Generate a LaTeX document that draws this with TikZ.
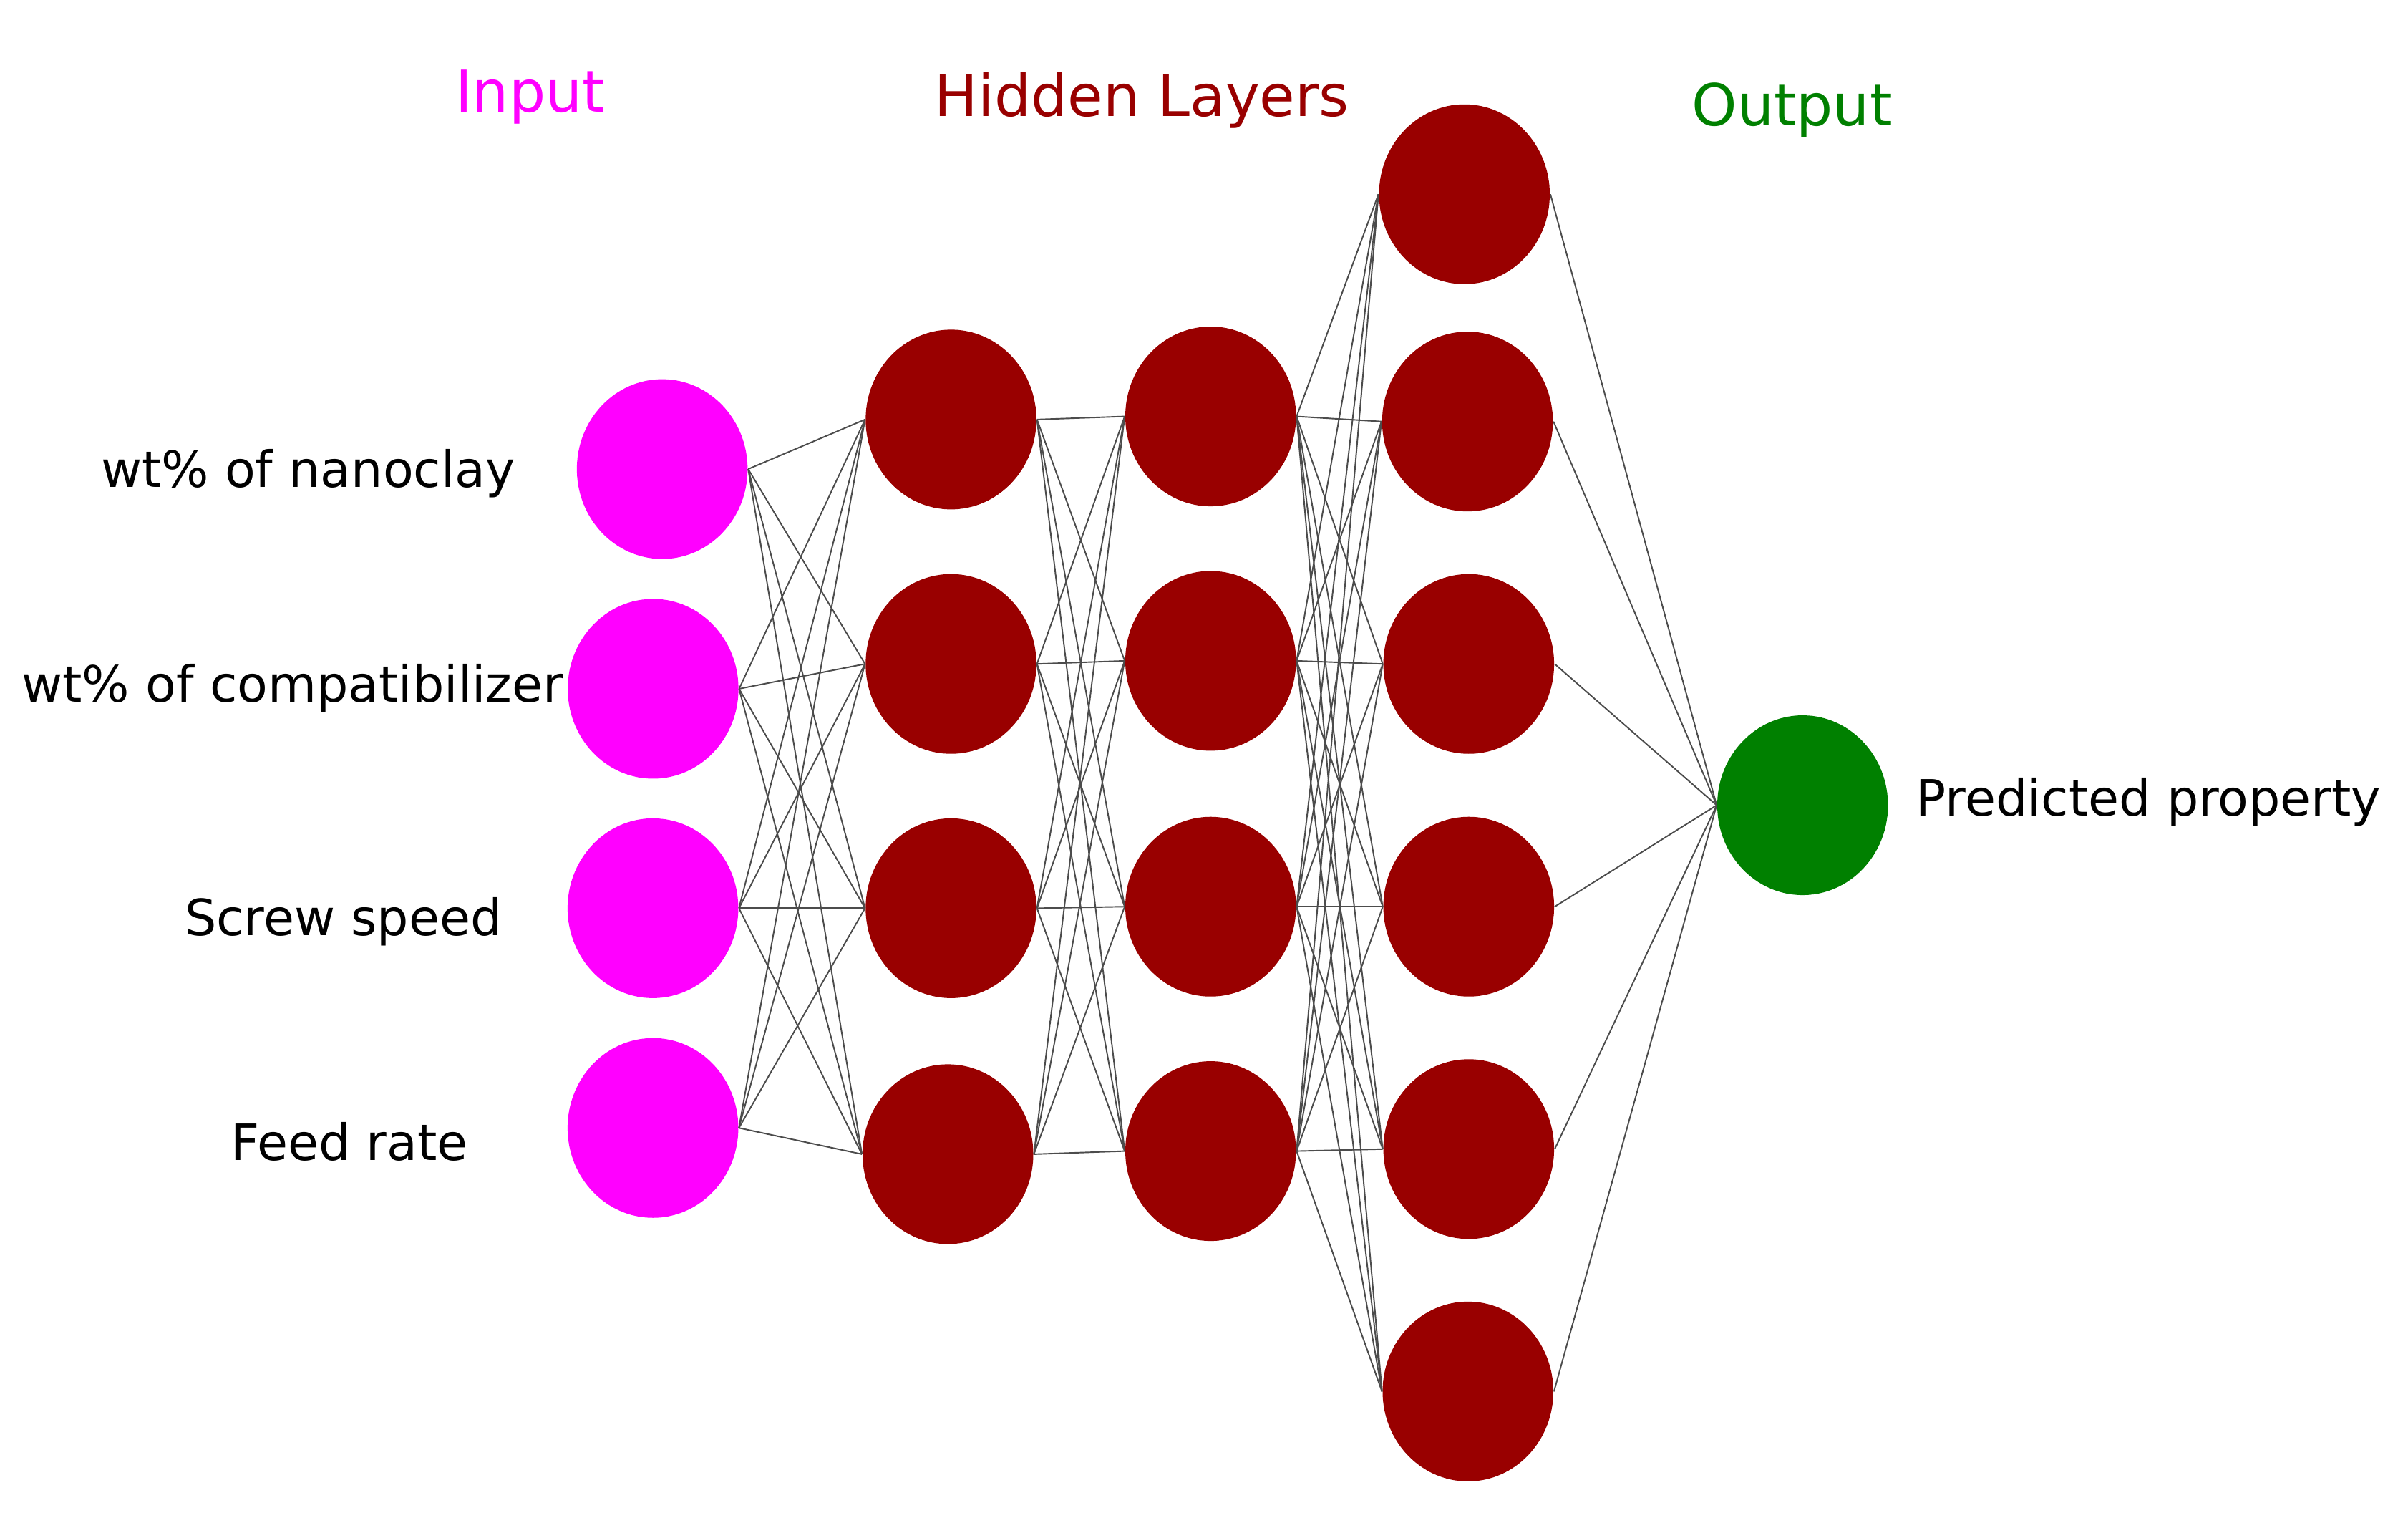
\documentclass[tikz,border=0pt]{standalone}
\usepackage{fontspec}
\setmainfont{DejaVu Sans}
\usetikzlibrary{shapes.geometric}
\definecolor{inmag}{HTML}{FF00FF}
\definecolor{hidred}{HTML}{990000}
\definecolor{outgreen}{HTML}{008000}
\definecolor{titlered}{HTML}{990000}
\tikzset{
  neuron/.style={ellipse, inner sep=0pt, minimum width=55.3pt, minimum height=58.2pt, draw=none},
  innode/.style={neuron, fill=inmag},
  hidnode/.style={neuron, fill=hidred},
  outnode/.style={neuron, fill=outgreen},
  link/.style={line width=0.45pt, draw=black!70},
  lbl/.style={font=\fontsize{16.2}{19}\selectfont, text=black, inner sep=0pt, anchor=base},
  ttl/.style={font=\fontsize{18.7}{22}\selectfont, inner sep=0pt, anchor=base},
}
\begin{document}
\begin{tikzpicture}[x=0.5pt,y=-0.5pt]
\useasboundingbox (0,0) rectangle (1560,983);
\fill[white] (0,0) rectangle (1560,983);
% input layer
\node[innode] (i1) at (429,303.8) {};
\node[innode] (i2) at (423.1,446.1) {};
\node[innode] (i3) at (423,588.2) {};
\node[innode] (i4) at (423,730.5) {};
% hidden layer 1
\node[hidnode] (a1) at (616.1,271.7) {};
\node[hidnode] (a2) at (616.1,430) {};
\node[hidnode] (a3) at (616.1,588.2) {};
\node[hidnode] (a4) at (614.1,747.5) {};
% hidden layer 2
\node[hidnode] (b1) at (784.3,269.7) {};
\node[hidnode] (b2) at (784.3,428) {};
\node[hidnode] (b3) at (784.3,587.2) {};
\node[hidnode] (b4) at (784.3,745.5) {};
% hidden layer 3
\node[hidnode] (c1) at (948.7,125.8) {};
\node[hidnode] (c2) at (950.7,273) {};
\node[hidnode] (c3) at (951.5,430) {};
\node[hidnode] (c4) at (951.5,587.2) {};
\node[hidnode] (c5) at (951.5,744.2) {};
\node[hidnode] (c6) at (951,901.2) {};
% output
\node[outnode] (o1) at (1167.8,521.5) {};
% connections
\foreach \s in {1,...,4}{\foreach \t in {1,...,4}{\draw[link] (i\s.east) -- (a\t.west);}}
\foreach \s in {1,...,4}{\foreach \t in {1,...,4}{\draw[link] (a\s.east) -- (b\t.west);}}
\foreach \s in {1,...,4}{\foreach \t in {1,...,6}{\draw[link] (b\s.east) -- (c\t.west);}}
\foreach \s in {1,...,6}{\draw[link] (c\s.east) -- (o1.west);}
% titles
\node[ttl, text=inmag] (tin) at (343.4,72.7) {Input};
\node[ttl, text=titlered, anchor=base west] (thid) at (605.2,75.4) {Hidden Layers};
\node[ttl, text=outgreen] (tout) at (1161,81.6) {Output};
% labels
\node[lbl] (l1) at (199.6,315.5) {wt\% of nanoclay};
\node[lbl] (l2) at (189.6,454.7) {wt\% of compatibilizer};
\node[lbl] (l3) at (222.5,606.1) {Screw speed};
\node[lbl] (l4) at (226.4,751.4) {Feed rate};
\node[lbl, anchor=base west] (l5) at (1241,528.3) {Predicted property};
\end{tikzpicture}
\end{document}
